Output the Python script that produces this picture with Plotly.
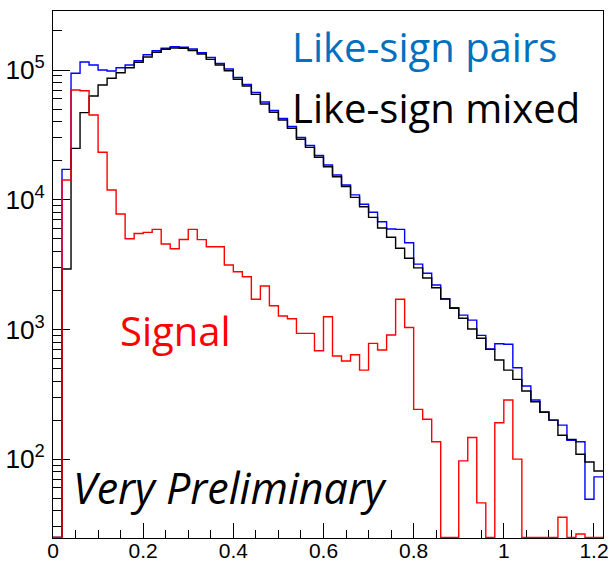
import numpy as np
import plotly.graph_objects as go

# Histogram binning: 61 bins of width 0.02 from 0 to 1.22
bin_width = 0.02
n_bins = 61
edges = np.round(np.arange(n_bins + 1) * bin_width, 4)

# Bin contents
like_sign_pairs = [0, 17150, 94300, 115300, 109300, 100000, 98200, 104200, 109300, 118000,
                   131200, 140900, 147000, 151200, 150000, 145200, 135900, 124900, 112200, 101800,
                   87500, 77300, 67100, 56700, 48700, 42300, 36700, 30200, 26200, 21900,
                   18500, 15500, 13000, 10900, 9220, 8000, 6770, 5940, 5910, 4660,
                   3190, 2710, 2200, 1720, 1470, 1290, 1180, 900, 706, 776,
                   768, 507, 366, 286, 231, 200, 183, 140, 136, 49, 73]

like_sign_mixed = [0, 2920, 24900, 46900, 63000, 76600, 86300, 95300, 104200, 114700,
                   126000, 136900, 144400, 147700, 147000, 141300, 132900, 120900, 109300, 98800,
                   84800, 75300, 64950, 54700, 47200, 41170, 35520, 29220, 25350, 21230,
                   17960, 15040, 12640, 10430, 8830, 7315, 6050, 5130, 4220, 3540,
                   2985, 2495, 2096, 1715, 1455, 1218, 1007, 854, 702, 581,
                   486, 412, 335, 277, 230, 200, 153, 142, 109, 95, 81]

signal = [0, 14190, 70150, 69250, 44980, 23200, 11880, 7760, 5003, 5488,
          5606, 5912, 4554, 4183, 4933, 5912, 4925, 4341, 4341, 3137,
          2786, 2549, 1707, 2160, 1523, 1269, 1209, 933, 933, 685,
          1253, 624, 571, 638, 486, 781, 694, 905, 1707, 1034,
          242, 203, 136, 0, 0, 97, 147, 46, 0, 191,
          286, 100, 0, 0, 0, 0, 35.6, 0, 26.5, 0, 0]

x_range = [0, 1.22]
log_y_range = [1.392, 5.455]
# empty bins are drawn along the bottom of the frame, as ROOT does on a log axis
floor = 10 ** log_y_range[0] * 1.01


def step_trace(values, color):
    y = np.maximum(np.asarray(values, dtype=float), floor)
    y = np.append(y, y[-1])
    return go.Scatter(x=edges, y=y, mode="lines", line=dict(color=color, width=1.4, shape="hv"),
                      hoverinfo="skip", showlegend=False)


fig = go.Figure()
fig.add_trace(step_trace(like_sign_pairs, "#0000ff"))
fig.add_trace(step_trace(like_sign_mixed, "#000000"))
fig.add_trace(step_trace(signal, "#ff0000"))

tick_font = dict(family="Liberation Sans, Arial, sans-serif", size=21, color="black")
text_font = "Open Sans, Noto Sans, sans-serif"

fig.update_layout(
    template="none",
    width=608, height=563,
    margin=dict(l=53, r=5, t=11, b=25, autoexpand=False),
    paper_bgcolor="white", plot_bgcolor="white",
    xaxis=dict(range=x_range, showgrid=False, zeroline=False, showline=True, linecolor="black",
               linewidth=1, mirror=True, ticks="inside", ticklen=15, tickcolor="black",
               dtick=0.2, tick0=0, tickfont=tick_font, layer="below traces",
               automargin=False, ticklabelstandoff=-6, ticklabeloverflow="allow",
               minor=dict(ticks="inside", ticklen=8, dtick=0.05, tickcolor="black")),
    yaxis=dict(type="log", range=log_y_range, showgrid=False, zeroline=False, showline=True,
               linecolor="black", linewidth=1, mirror=True, ticks="inside", ticklen=17,
               tickcolor="black", dtick=1, exponentformat="power", tickfont=tick_font,
               layer="below traces", automargin=False, ticklabelstandoff=3,
               ticklabeloverflow="allow",
               minor=dict(ticks="inside", ticklen=9, dtick="D1", tickcolor="black")),
    annotations=[
        dict(text="Like-sign pairs", xref="paper", yref="paper", x=0.4306, y=0.9325,
             xanchor="left", yanchor="middle", showarrow=False,
             font=dict(family=text_font, size=40, color="#0070c0")),
        dict(text="Like-sign mixed", xref="paper", yref="paper", x=0.4306, y=0.8169,
             xanchor="left", yanchor="middle", showarrow=False,
             font=dict(family=text_font, size=40, color="black")),
        dict(text="Signal", xref="paper", yref="paper", x=0.1177, y=0.3945,
             xanchor="left", yanchor="middle", showarrow=False,
             font=dict(family=text_font, size=40, color="#ff0000")),
        dict(text="<i>Very Preliminary</i>", xref="paper", yref="paper", x=0.032, y=0.095,
             xanchor="left", yanchor="middle", showarrow=False,
             font=dict(family=text_font, size=43, color="black")),
    ],
)

fig.write_html("out.html")
